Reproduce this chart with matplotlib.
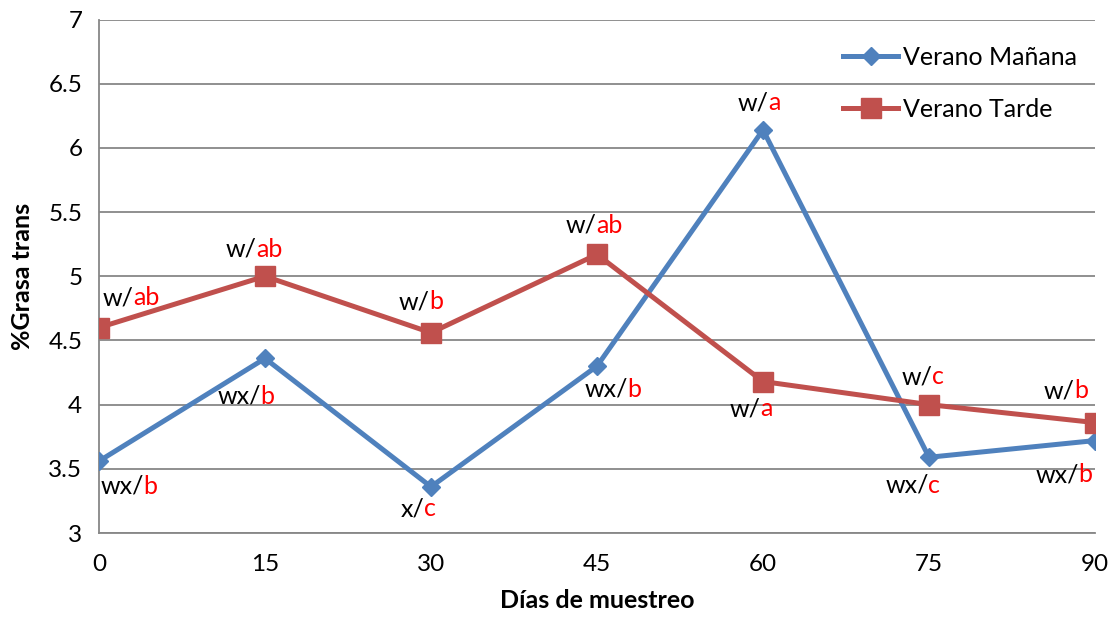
import matplotlib
matplotlib.use('Agg')
import matplotlib.pyplot as plt

plt.rcParams['font.family'] = ['Lato', 'DejaVu Sans']

# data
dias = [0, 15, 30, 45, 60, 75, 90]
manana = [3.56, 4.36, 3.36, 4.30, 6.14, 3.59, 3.72]
tarde = [4.60, 5.00, 4.56, 5.17, 4.18, 4.00, 3.86]

# letters: black part / red part
manana_pre = ['wx/', 'wx/', 'x/', 'wx/', 'w/', 'wx/', 'wx/']
manana_suf = ['b', 'b', 'c', 'b', 'a', 'c', 'b']
tarde_pre = ['w/', 'w/', 'w/', 'w/', 'w/', 'w/', 'w/']
tarde_suf = ['ab', 'ab', 'b', 'ab', 'a', 'c', 'b']

# label offsets in pixels (left edge, vertical centre) from each point
manana_off = [(2, -25), (-47, -38), (-30, -22), (-12, -23), (-25, 27), (-43, -28), (-59, -34)]
tarde_off = [(4, 30), (-39, 27), (-32, 31), (-31, 29), (-33, -27), (-27, 28), (-51, 32)]

blue = '#4F81BD'
red = '#C0504D'
grid_c = '#878787'

fig = plt.figure(figsize=(11.16, 6.22), dpi=100)
ax = fig.add_axes([99/1116, 1-533/622, (1095-99)/1116, (533-19.5)/622])

ax.plot(dias, manana, color=blue, lw=3.6, marker='D', markersize=9,
        label='Verano Mañana', zorder=3)
ax.plot(dias, tarde, color=red, lw=3.6, marker='s', markersize=14,
        label='Verano Tarde', zorder=3)

px = 72 / 100  # pixel -> points


def two_color(x, y, pre, suf, off):
    t = ax.annotate(pre, (x, y), xytext=(off[0]*px, off[1]*px),
                    textcoords='offset points', ha='left', va='center',
                    fontsize=18, color='black', zorder=4)
    ax.annotate(suf, xy=(0.97, 0), xycoords=t, ha='left', va='bottom',
                fontsize=18, color='#FF0000', zorder=4)


for i in range(len(dias)):
    two_color(dias[i], manana[i], manana_pre[i], manana_suf[i], manana_off[i])
    two_color(dias[i], tarde[i], tarde_pre[i], tarde_suf[i], tarde_off[i])

ax.set_xlim(0, 90)
ax.set_ylim(3, 7)
ax.set_xticks(dias)
ax.set_yticks([3, 3.5, 4, 4.5, 5, 5.5, 6, 6.5, 7])
ax.set_yticklabels(['3', '3.5', '4', '4.5', '5', '5.5', '6', '6.5', '7'])
ax.tick_params(length=0, labelsize=17.5, pad=12)
ax.tick_params(axis='x', pad=15)
ax.yaxis.grid(True, color=grid_c, lw=1.3)
ax.set_axisbelow(True)
for s in ['top', 'right']:
    ax.spines[s].set_visible(False)
for s in ['left', 'bottom']:
    ax.spines[s].set_color(grid_c)
    ax.spines[s].set_linewidth(1.3)

ax.set_xlabel('Días de muestreo', fontsize=18, fontweight='bold', labelpad=10)
ax.set_ylabel('%Grasa trans', fontsize=18, fontweight='bold', labelpad=10)

ax.legend(loc='upper left', bbox_to_anchor=(843/1116, 1-46/622),
          bbox_transform=fig.transFigure, frameon=False, fontsize=18,
          borderpad=0, borderaxespad=0, handlelength=2.2,
          handletextpad=0.2, labelspacing=1.15)

fig.savefig('out.png', dpi=100)
